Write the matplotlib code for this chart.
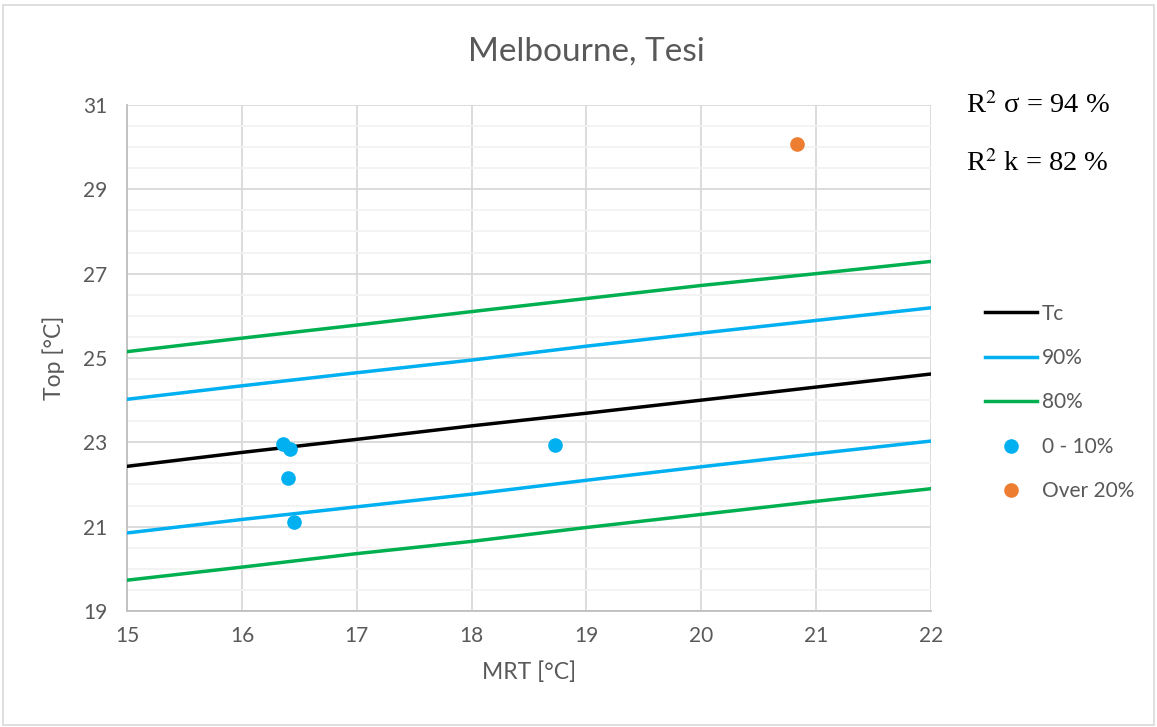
import matplotlib.pyplot as plt
from matplotlib.patches import Rectangle
from matplotlib.ticker import MultipleLocator

plt.rcParams['font.family'] = ['Lato', 'DejaVu Sans']
plt.rcParams['mathtext.fontset'] = 'stix'

# comfort lines vs MRT
mrt = [15, 16, 17, 18, 19, 20, 21, 22]
tc = [22.43, 22.76, 23.07, 23.39, 23.69, 24.00, 24.31, 24.62]
upper_90 = [24.02, 24.34, 24.65, 24.95, 25.28, 25.59, 25.89, 26.19]
lower_90 = [20.85, 21.17, 21.47, 21.77, 22.10, 22.42, 22.73, 23.03]
upper_80 = [25.15, 25.47, 25.78, 26.10, 26.41, 26.72, 27.00, 27.29]
lower_80 = [19.73, 20.04, 20.36, 20.65, 20.98, 21.29, 21.60, 21.90]

# measured points
low_x = [16.36, 16.42, 16.40, 16.45, 18.73]
low_y = [22.95, 22.85, 22.15, 21.12, 22.94]
over_x = [20.83]
over_y = [30.07]

y_ticks = [19, 21, 23, 25, 27, 29, 31]

grey = '#595959'
blue = '#00B0F0'
green = '#00B050'
orange = '#ED7D31'

fig = plt.figure(figsize=(11.57, 7.27), dpi=100)
fig.patches.append(Rectangle((0.003, 0.003), 0.994, 0.99, transform=fig.transFigure,
                             fill=False, edgecolor='#D9D9D9', lw=1.2))
ax = fig.add_axes([0.1098, 0.1596, 0.6949, 0.6960])

ax.plot(mrt, tc, color='black', lw=2.5, label='Tc', zorder=3)
ax.plot(mrt, upper_90, color=blue, lw=2.5, label='90%', zorder=3)
ax.plot(mrt, upper_80, color=green, lw=2.5, label='80%', zorder=3)
ax.plot(mrt, lower_90, color=blue, lw=2.5, zorder=3)
ax.plot(mrt, lower_80, color=green, lw=2.5, zorder=3)
ax.plot(low_x, low_y, 'o', color=blue, ms=9.5, label='0 - 10%', zorder=4)
ax.plot(over_x, over_y, 'o', color=orange, ms=9.5, label='Over 20%', zorder=4)

ax.set_xlim(15, 22)
ax.set_ylim(19, 31)
ax.xaxis.set_major_locator(MultipleLocator(1))
ax.set_yticks(y_ticks)
ax.yaxis.set_minor_locator(MultipleLocator(0.5))
ax.grid(which='major', color='#D9D9D9', lw=1.3, zorder=0)
ax.grid(which='minor', axis='y', color='#F2F2F2', lw=1.3, zorder=0)
ax.set_axisbelow(True)
for s in ['top', 'right']:
    ax.spines[s].set_visible(False)
for s in ['left', 'bottom']:
    ax.spines[s].set_color('#BFBFBF')
    ax.spines[s].set_linewidth(1.3)
ax.tick_params(which='both', length=0, labelsize=15, labelcolor=grey)
ax.tick_params(axis='x', pad=11)
ax.tick_params(axis='y', pad=14)

ax.set_xlabel('MRT [°C]', fontsize=16.5, color=grey, labelpad=11)
ax.set_ylabel('Top [°C]', fontsize=16.5, color=grey, labelpad=13)
fig.text(0.5065, 0.929, 'Melbourne, Tesi', ha='center', va='center', fontsize=24, color=grey)

fig.text(0.835, 0.855, r'R$^2$ σ = 94 %', family='Liberation Serif', fontsize=20.5, va='center')
fig.text(0.835, 0.775, r'R$^2$ k = 82 %', family='Liberation Serif', fontsize=20.5, va='center')

leg = fig.legend(loc='upper left', bbox_to_anchor=(0.835, 0.608), frameon=False, fontsize=15,
                 handlelength=2.5, handletextpad=0.25, labelspacing=1.17, labelcolor=grey)

fig.savefig('out.png', dpi=100)
